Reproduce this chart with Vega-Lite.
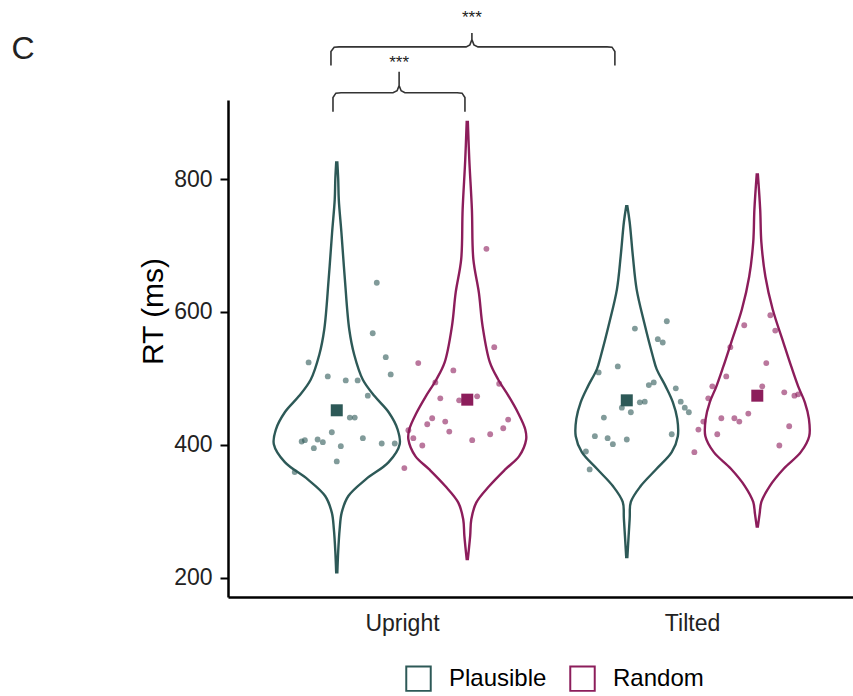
{
  "$schema": "https://vega.github.io/schema/vega-lite/v6.json",
  "width": 625,
  "height": 497,
  "autosize": {"type": "none"},
  "padding": {"left": 228, "top": 100, "right": 0, "bottom": 99},
  "background": "white",
  "config": {
    "font": "Liberation Sans",
    "view": {"stroke": null},
    "axis": {"grid": false}
  },
  "datasets": {
    "violin": [
      {"cond": "Upright", "type": "Plausible", "rt": 825, "w": 0.002},
      {"cond": "Upright", "type": "Plausible", "rt": 800, "w": 0.005},
      {"cond": "Upright", "type": "Plausible", "rt": 769, "w": 0.007},
      {"cond": "Upright", "type": "Plausible", "rt": 720, "w": 0.016},
      {"cond": "Upright", "type": "Plausible", "rt": 649, "w": 0.028},
      {"cond": "Upright", "type": "Plausible", "rt": 574, "w": 0.043},
      {"cond": "Upright", "type": "Plausible", "rt": 536, "w": 0.060},
      {"cond": "Upright", "type": "Plausible", "rt": 498, "w": 0.090},
      {"cond": "Upright", "type": "Plausible", "rt": 473, "w": 0.131},
      {"cond": "Upright", "type": "Plausible", "rt": 449, "w": 0.179},
      {"cond": "Upright", "type": "Plausible", "rt": 423, "w": 0.210},
      {"cond": "Upright", "type": "Plausible", "rt": 401, "w": 0.217},
      {"cond": "Upright", "type": "Plausible", "rt": 374, "w": 0.179},
      {"cond": "Upright", "type": "Plausible", "rt": 348, "w": 0.100},
      {"cond": "Upright", "type": "Plausible", "rt": 323, "w": 0.040},
      {"cond": "Upright", "type": "Plausible", "rt": 298, "w": 0.017},
      {"cond": "Upright", "type": "Plausible", "rt": 273, "w": 0.010},
      {"cond": "Upright", "type": "Plausible", "rt": 240, "w": 0.005},
      {"cond": "Upright", "type": "Plausible", "rt": 208, "w": 0.002},
      {"cond": "Upright", "type": "Random", "rt": 886, "w": 0.002},
      {"cond": "Upright", "type": "Random", "rt": 829, "w": 0.007},
      {"cond": "Upright", "type": "Random", "rt": 754, "w": 0.016},
      {"cond": "Upright", "type": "Random", "rt": 679, "w": 0.021},
      {"cond": "Upright", "type": "Random", "rt": 629, "w": 0.040},
      {"cond": "Upright", "type": "Random", "rt": 578, "w": 0.053},
      {"cond": "Upright", "type": "Random", "rt": 524, "w": 0.078},
      {"cond": "Upright", "type": "Random", "rt": 498, "w": 0.107},
      {"cond": "Upright", "type": "Random", "rt": 473, "w": 0.143},
      {"cond": "Upright", "type": "Random", "rt": 449, "w": 0.174},
      {"cond": "Upright", "type": "Random", "rt": 423, "w": 0.200},
      {"cond": "Upright", "type": "Random", "rt": 408, "w": 0.203},
      {"cond": "Upright", "type": "Random", "rt": 383, "w": 0.179},
      {"cond": "Upright", "type": "Random", "rt": 363, "w": 0.131},
      {"cond": "Upright", "type": "Random", "rt": 338, "w": 0.076},
      {"cond": "Upright", "type": "Random", "rt": 313, "w": 0.031},
      {"cond": "Upright", "type": "Random", "rt": 288, "w": 0.014},
      {"cond": "Upright", "type": "Random", "rt": 263, "w": 0.010},
      {"cond": "Upright", "type": "Random", "rt": 228, "w": 0.002},
      {"cond": "Tilted", "type": "Plausible", "rt": 759, "w": 0.002},
      {"cond": "Tilted", "type": "Plausible", "rt": 735, "w": 0.010},
      {"cond": "Tilted", "type": "Plausible", "rt": 684, "w": 0.021},
      {"cond": "Tilted", "type": "Plausible", "rt": 634, "w": 0.034},
      {"cond": "Tilted", "type": "Plausible", "rt": 584, "w": 0.060},
      {"cond": "Tilted", "type": "Plausible", "rt": 533, "w": 0.090},
      {"cond": "Tilted", "type": "Plausible", "rt": 514, "w": 0.103},
      {"cond": "Tilted", "type": "Plausible", "rt": 488, "w": 0.134},
      {"cond": "Tilted", "type": "Plausible", "rt": 464, "w": 0.159},
      {"cond": "Tilted", "type": "Plausible", "rt": 439, "w": 0.174},
      {"cond": "Tilted", "type": "Plausible", "rt": 413, "w": 0.176},
      {"cond": "Tilted", "type": "Plausible", "rt": 389, "w": 0.155},
      {"cond": "Tilted", "type": "Plausible", "rt": 364, "w": 0.103},
      {"cond": "Tilted", "type": "Plausible", "rt": 338, "w": 0.048},
      {"cond": "Tilted", "type": "Plausible", "rt": 314, "w": 0.014},
      {"cond": "Tilted", "type": "Plausible", "rt": 289, "w": 0.010},
      {"cond": "Tilted", "type": "Plausible", "rt": 231, "w": 0.002},
      {"cond": "Tilted", "type": "Random", "rt": 807, "w": 0.002},
      {"cond": "Tilted", "type": "Random", "rt": 754, "w": 0.010},
      {"cond": "Tilted", "type": "Random", "rt": 705, "w": 0.014},
      {"cond": "Tilted", "type": "Random", "rt": 653, "w": 0.028},
      {"cond": "Tilted", "type": "Random", "rt": 604, "w": 0.053},
      {"cond": "Tilted", "type": "Random", "rt": 554, "w": 0.090},
      {"cond": "Tilted", "type": "Random", "rt": 518, "w": 0.117},
      {"cond": "Tilted", "type": "Random", "rt": 488, "w": 0.141},
      {"cond": "Tilted", "type": "Random", "rt": 464, "w": 0.164},
      {"cond": "Tilted", "type": "Random", "rt": 439, "w": 0.178},
      {"cond": "Tilted", "type": "Random", "rt": 413, "w": 0.179},
      {"cond": "Tilted", "type": "Random", "rt": 389, "w": 0.150},
      {"cond": "Tilted", "type": "Random", "rt": 364, "w": 0.091},
      {"cond": "Tilted", "type": "Random", "rt": 338, "w": 0.043},
      {"cond": "Tilted", "type": "Random", "rt": 314, "w": 0.014},
      {"cond": "Tilted", "type": "Random", "rt": 296, "w": 0.008},
      {"cond": "Tilted", "type": "Random", "rt": 277, "w": 0.002}
    ],
    "pts": [
      {"cond": "Upright", "type": "Plausible", "rt": 644, "jit": 0.138},
      {"cond": "Upright", "type": "Plausible", "rt": 524, "jit": -0.097},
      {"cond": "Upright", "type": "Plausible", "rt": 568, "jit": 0.124},
      {"cond": "Upright", "type": "Plausible", "rt": 532, "jit": 0.169},
      {"cond": "Upright", "type": "Plausible", "rt": 506, "jit": 0.186},
      {"cond": "Upright", "type": "Plausible", "rt": 503, "jit": -0.031},
      {"cond": "Upright", "type": "Plausible", "rt": 497, "jit": 0.031},
      {"cond": "Upright", "type": "Plausible", "rt": 497, "jit": 0.072},
      {"cond": "Upright", "type": "Plausible", "rt": 474, "jit": 0.107},
      {"cond": "Upright", "type": "Plausible", "rt": 441, "jit": 0.045},
      {"cond": "Upright", "type": "Plausible", "rt": 441, "jit": 0.062},
      {"cond": "Upright", "type": "Plausible", "rt": 419, "jit": -0.017},
      {"cond": "Upright", "type": "Plausible", "rt": 405, "jit": -0.121},
      {"cond": "Upright", "type": "Plausible", "rt": 407, "jit": -0.110},
      {"cond": "Upright", "type": "Plausible", "rt": 408, "jit": -0.066},
      {"cond": "Upright", "type": "Plausible", "rt": 404, "jit": -0.048},
      {"cond": "Upright", "type": "Plausible", "rt": 395, "jit": -0.079},
      {"cond": "Upright", "type": "Plausible", "rt": 398, "jit": 0.014},
      {"cond": "Upright", "type": "Plausible", "rt": 410, "jit": 0.090},
      {"cond": "Upright", "type": "Plausible", "rt": 402, "jit": 0.155},
      {"cond": "Upright", "type": "Plausible", "rt": 402, "jit": 0.200},
      {"cond": "Upright", "type": "Plausible", "rt": 375, "jit": 0.0},
      {"cond": "Upright", "type": "Plausible", "rt": 359, "jit": -0.145},
      {"cond": "Upright", "type": "Random", "rt": 695, "jit": 0.066},
      {"cond": "Upright", "type": "Random", "rt": 547, "jit": 0.093},
      {"cond": "Upright", "type": "Random", "rt": 523, "jit": -0.169},
      {"cond": "Upright", "type": "Random", "rt": 512, "jit": -0.048},
      {"cond": "Upright", "type": "Random", "rt": 494, "jit": -0.110},
      {"cond": "Upright", "type": "Random", "rt": 492, "jit": 0.110},
      {"cond": "Upright", "type": "Random", "rt": 470, "jit": -0.093},
      {"cond": "Upright", "type": "Random", "rt": 467, "jit": -0.028},
      {"cond": "Upright", "type": "Random", "rt": 473, "jit": 0.034},
      {"cond": "Upright", "type": "Random", "rt": 440, "jit": -0.121},
      {"cond": "Upright", "type": "Random", "rt": 431, "jit": -0.138},
      {"cond": "Upright", "type": "Random", "rt": 435, "jit": -0.076},
      {"cond": "Upright", "type": "Random", "rt": 438, "jit": 0.141},
      {"cond": "Upright", "type": "Random", "rt": 425, "jit": 0.124},
      {"cond": "Upright", "type": "Random", "rt": 420, "jit": -0.062},
      {"cond": "Upright", "type": "Random", "rt": 422, "jit": -0.203},
      {"cond": "Upright", "type": "Random", "rt": 410, "jit": -0.186},
      {"cond": "Upright", "type": "Random", "rt": 416, "jit": 0.079},
      {"cond": "Upright", "type": "Random", "rt": 407, "jit": 0.017},
      {"cond": "Upright", "type": "Random", "rt": 399, "jit": -0.155},
      {"cond": "Upright", "type": "Random", "rt": 365, "jit": -0.217},
      {"cond": "Tilted", "type": "Plausible", "rt": 586, "jit": 0.138},
      {"cond": "Tilted", "type": "Plausible", "rt": 575, "jit": 0.028},
      {"cond": "Tilted", "type": "Plausible", "rt": 559, "jit": 0.107},
      {"cond": "Tilted", "type": "Plausible", "rt": 554, "jit": 0.124},
      {"cond": "Tilted", "type": "Plausible", "rt": 518, "jit": -0.031},
      {"cond": "Tilted", "type": "Plausible", "rt": 509, "jit": -0.097},
      {"cond": "Tilted", "type": "Plausible", "rt": 490, "jit": 0.076},
      {"cond": "Tilted", "type": "Plausible", "rt": 494, "jit": 0.093},
      {"cond": "Tilted", "type": "Plausible", "rt": 485, "jit": 0.169},
      {"cond": "Tilted", "type": "Plausible", "rt": 465, "jit": 0.186},
      {"cond": "Tilted", "type": "Plausible", "rt": 456, "jit": 0.200},
      {"cond": "Tilted", "type": "Plausible", "rt": 449, "jit": 0.214},
      {"cond": "Tilted", "type": "Plausible", "rt": 464, "jit": 0.045},
      {"cond": "Tilted", "type": "Plausible", "rt": 465, "jit": 0.062},
      {"cond": "Tilted", "type": "Plausible", "rt": 456, "jit": -0.017},
      {"cond": "Tilted", "type": "Plausible", "rt": 449, "jit": 0.014},
      {"cond": "Tilted", "type": "Plausible", "rt": 441, "jit": -0.079},
      {"cond": "Tilted", "type": "Plausible", "rt": 413, "jit": -0.110},
      {"cond": "Tilted", "type": "Plausible", "rt": 410, "jit": -0.066},
      {"cond": "Tilted", "type": "Plausible", "rt": 401, "jit": -0.048},
      {"cond": "Tilted", "type": "Plausible", "rt": 408, "jit": 0.0},
      {"cond": "Tilted", "type": "Plausible", "rt": 416, "jit": 0.155},
      {"cond": "Tilted", "type": "Plausible", "rt": 390, "jit": -0.141},
      {"cond": "Tilted", "type": "Plausible", "rt": 363, "jit": -0.128},
      {"cond": "Tilted", "type": "Random", "rt": 595, "jit": 0.045},
      {"cond": "Tilted", "type": "Random", "rt": 580, "jit": -0.045},
      {"cond": "Tilted", "type": "Random", "rt": 572, "jit": 0.062},
      {"cond": "Tilted", "type": "Random", "rt": 547, "jit": -0.093},
      {"cond": "Tilted", "type": "Random", "rt": 523, "jit": 0.031},
      {"cond": "Tilted", "type": "Random", "rt": 503, "jit": -0.107},
      {"cond": "Tilted", "type": "Random", "rt": 488, "jit": -0.155},
      {"cond": "Tilted", "type": "Random", "rt": 488, "jit": 0.017},
      {"cond": "Tilted", "type": "Random", "rt": 470, "jit": -0.169},
      {"cond": "Tilted", "type": "Random", "rt": 479, "jit": 0.093},
      {"cond": "Tilted", "type": "Random", "rt": 474, "jit": 0.128},
      {"cond": "Tilted", "type": "Random", "rt": 476, "jit": 0.141},
      {"cond": "Tilted", "type": "Random", "rt": 435, "jit": -0.186},
      {"cond": "Tilted", "type": "Random", "rt": 423, "jit": -0.203},
      {"cond": "Tilted", "type": "Random", "rt": 440, "jit": -0.124},
      {"cond": "Tilted", "type": "Random", "rt": 440, "jit": -0.079},
      {"cond": "Tilted", "type": "Random", "rt": 435, "jit": -0.062},
      {"cond": "Tilted", "type": "Random", "rt": 447, "jit": -0.031},
      {"cond": "Tilted", "type": "Random", "rt": 416, "jit": -0.138},
      {"cond": "Tilted", "type": "Random", "rt": 428, "jit": 0.110},
      {"cond": "Tilted", "type": "Random", "rt": 399, "jit": 0.076},
      {"cond": "Tilted", "type": "Random", "rt": 389, "jit": -0.217}
    ],
    "means": [
      {"cond": "Upright", "type": "Plausible", "rt": 452},
      {"cond": "Upright", "type": "Random", "rt": 468},
      {"cond": "Tilted", "type": "Plausible", "rt": 467},
      {"cond": "Tilted", "type": "Random", "rt": 474}
    ],
    "brackets": [
      {"b": "outer", "i": 1, "x": 0.755, "y": 971},
      {"b": "outer", "i": 2, "x": 0.755, "y": 992},
      {"b": "outer", "i": 3, "x": 0.766, "y": 998.5},
      {"b": "outer", "i": 4, "x": 0.783, "y": 999},
      {"b": "outer", "i": 5, "x": 1.221, "y": 999},
      {"b": "outer", "i": 6, "x": 1.234, "y": 1002},
      {"b": "outer", "i": 7, "x": 1.241, "y": 1010},
      {"b": "outer", "i": 8, "x": 1.241, "y": 1020},
      {"b": "outer", "i": 9, "x": 1.241, "y": 1010},
      {"b": "outer", "i": 10, "x": 1.248, "y": 1002},
      {"b": "outer", "i": 11, "x": 1.262, "y": 999},
      {"b": "outer", "i": 12, "x": 1.707, "y": 999},
      {"b": "outer", "i": 13, "x": 1.724, "y": 998.5},
      {"b": "outer", "i": 14, "x": 1.734, "y": 992},
      {"b": "outer", "i": 15, "x": 1.734, "y": 971},
      {"b": "inner", "i": 1, "x": 0.762, "y": 901.5},
      {"b": "inner", "i": 2, "x": 0.762, "y": 922.6},
      {"b": "inner", "i": 3, "x": 0.772, "y": 929.3},
      {"b": "inner", "i": 4, "x": 0.790, "y": 930},
      {"b": "inner", "i": 5, "x": 0.969, "y": 930},
      {"b": "inner", "i": 6, "x": 0.983, "y": 933},
      {"b": "inner", "i": 7, "x": 0.990, "y": 940.6},
      {"b": "inner", "i": 8, "x": 0.990, "y": 961.7},
      {"b": "inner", "i": 9, "x": 0.990, "y": 940.6},
      {"b": "inner", "i": 10, "x": 0.997, "y": 933},
      {"b": "inner", "i": 11, "x": 1.010, "y": 930},
      {"b": "inner", "i": 12, "x": 1.190, "y": 930},
      {"b": "inner", "i": 13, "x": 1.207, "y": 929.3},
      {"b": "inner", "i": 14, "x": 1.217, "y": 922.6},
      {"b": "inner", "i": 15, "x": 1.217, "y": 901.5}
    ],
    "labels": [
      {"label": "***", "x": 1.241, "y": 1043, "size": "s"},
      {"label": "***", "x": 0.990, "y": 975, "size": "s"},
      {"label": "C", "x": -0.307, "y": 996, "size": "l"}
    ]
  },
  "layer": [
    {
      "data": {"name": "violin"},
      "transform": [
        {"calculate": "(datum.cond == 'Upright' ? 1 : 2) + (datum.type == 'Plausible' ? -0.225 : 0.225)", "as": "c"},
        {"calculate": "datum.c - datum.w", "as": "xl"},
        {"calculate": "datum.c + datum.w", "as": "xr"}
      ],
      "mark": {"type": "area", "orient": "horizontal", "interpolate": "catmull-rom", "fill": "transparent", "strokeWidth": 2.4},
      "encoding": {
        "y": {
          "field": "rt", "type": "quantitative",
          "scale": {"domain": [171, 919], "nice": false, "zero": false},
          "axis": {
            "values": [200, 400, 600, 800],
            "title": "RT (ms)",
            "titleFontSize": 30, "titleFontWeight": "normal", "titleColor": "black",
            "titleX": -66, "titleY": 211, "titleBaseline": "alphabetic", "titleAngle": 270,
            "labelFontSize": 23, "labelColor": "#222", "labelPadding": 8,
            "tickColor": "black", "tickSize": 8, "tickWidth": 2,
            "domainColor": "black", "domainWidth": 2.5
          }
        },
        "x": {
          "field": "xl", "type": "quantitative",
          "scale": {"domain": [0.4, 2.555], "nice": false, "zero": false},
          "axis": {
            "values": [1, 2],
            "labelExpr": "datum.value == 1 ? 'Upright' : 'Tilted'",
            "title": null, "ticks": false,
            "labelFontSize": 23, "labelColor": "#222", "labelPadding": 15,
            "domainColor": "black", "domainWidth": 2.5
          }
        },
        "x2": {"field": "xr"},
        "stroke": {
          "field": "type", "type": "nominal",
          "scale": {"domain": ["Plausible", "Random"], "range": ["#2D5957", "#8C1D5B"]},
          "legend": {
            "title": null, "orient": "none", "legendX": 177, "legendY": 565,
            "direction": "horizontal",
            "symbolType": "M-1,-1H1V1H-1Z M-0.85,-0.85V0.85H0.85V-0.85Z",
            "symbolSize": 700,
            "symbolStrokeWidth": 0,
            "labelFontSize": 24, "labelColor": "black", "labelOffset": 17,
            "columnPadding": 22
          }
        },
        "detail": {"field": "cond"}
      }
    },
    {
      "data": {"name": "pts"},
      "transform": [
        {"calculate": "(datum.cond == 'Upright' ? 1 : 2) + (datum.type == 'Plausible' ? -0.225 : 0.225) + datum.jit", "as": "px"}
      ],
      "mark": {"type": "circle", "size": 34, "opacity": 0.6},
      "encoding": {
        "x": {"field": "px", "type": "quantitative"},
        "y": {"field": "rt", "type": "quantitative"},
        "color": {
          "field": "type", "type": "nominal",
          "scale": {"domain": ["Plausible", "Random"], "range": ["#2D5957", "#8C1D5B"]},
          "legend": null
        }
      }
    },
    {
      "data": {"name": "means"},
      "transform": [
        {"calculate": "(datum.cond == 'Upright' ? 1 : 2) + (datum.type == 'Plausible' ? -0.225 : 0.225)", "as": "px"}
      ],
      "mark": {"type": "square", "size": 144, "opacity": 1},
      "encoding": {
        "x": {"field": "px", "type": "quantitative"},
        "y": {"field": "rt", "type": "quantitative"},
        "color": {"field": "type", "type": "nominal", "legend": null}
      }
    },
    {
      "data": {"name": "brackets"},
      "mark": {"type": "line", "color": "#333", "strokeWidth": 1.6, "clip": false},
      "encoding": {
        "x": {"field": "x", "type": "quantitative"},
        "y": {"field": "y", "type": "quantitative"},
        "detail": {"field": "b"},
        "order": {"field": "i", "type": "quantitative"}
      }
    },
    {
      "data": {"name": "labels"},
      "mark": {"type": "text", "baseline": "middle", "align": "center", "color": "#222"},
      "encoding": {
        "x": {"field": "x", "type": "quantitative"},
        "y": {"field": "y", "type": "quantitative"},
        "text": {"field": "label"},
        "size": {"field": "size", "type": "nominal", "scale": {"domain": ["s", "l"], "range": [17, 32]}, "legend": null}
      }
    }
  ]
}
